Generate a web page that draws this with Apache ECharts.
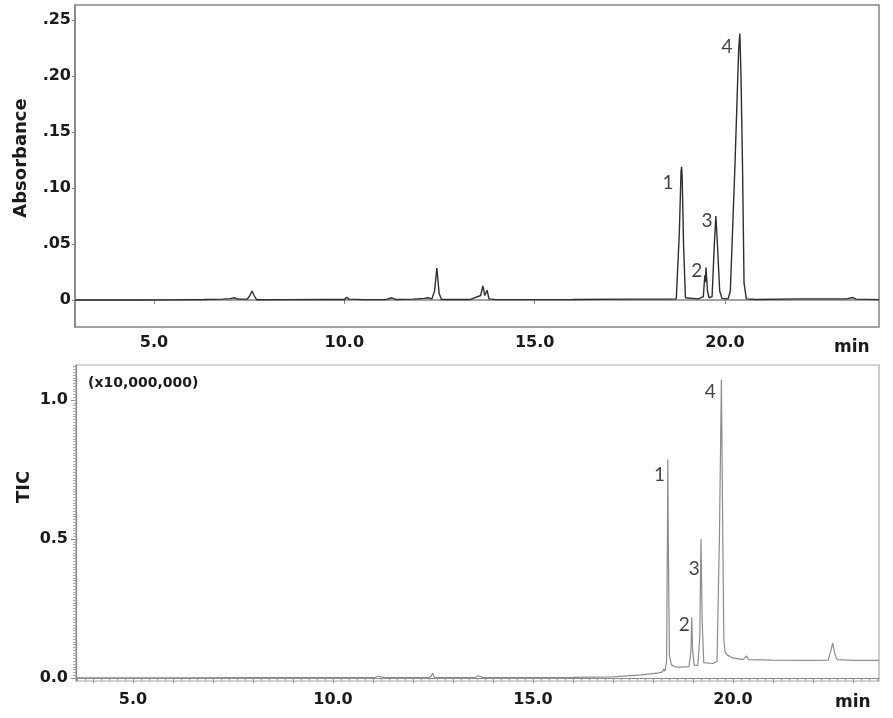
<!DOCTYPE html>
<html>
<head>
<meta charset="utf-8">
<script src="https://cdn.jsdelivr.net/npm/echarts@6/dist/echarts.min.js"></script>
<style>
html,body{margin:0;padding:0;background:#fff;}
#chart{width:893px;height:718px;}
</style>
</head>
<body>
<div id="chart"></div>
<script>
// ---- Data ----
// UV absorbance trace: [time (min), absorbance]
const absTrace = [
  [2.93, 0.0000], [4.5, 0.0000], [5.5, 0.0001], [6.3, 0.0005], [6.8, 0.0008], [7.0, 0.0012],
  [7.12, 0.0020], [7.2, 0.0008], [7.45, 0.0008], [7.52, 0.0040], [7.575, 0.0080], [7.63, 0.0040],
  [7.7, 0.0002], [8.5, 0.0003], [9.5, 0.0006], [10.0, 0.0004], [10.06, 0.0025], [10.12, 0.0008],
  [10.5, 0.0003], [11.1, 0.0005], [11.25, 0.0020], [11.35, 0.0005], [11.8, 0.0008], [12.1, 0.0015],
  [12.2, 0.0020], [12.3, 0.0010], [12.37, 0.0080], [12.43, 0.0286], [12.49, 0.0060], [12.55, 0.0005],
  [13.3, 0.0004], [13.58, 0.0040], [13.64, 0.0125], [13.69, 0.0040], [13.75, 0.0088], [13.8, 0.0010],
  [14.0, 0.0003], [16.0, 0.0005], [17.5, 0.0008], [18.5, 0.0008],
  [18.72, 0.0010], [18.80, 0.0600], [18.845, 0.1150], [18.86, 0.1190], [18.875, 0.1100], [18.91, 0.0500], [18.96, 0.0020],
  [19.3, 0.0010], [19.43, 0.0030], [19.47, 0.0220], [19.485, 0.0160], [19.50, 0.0290], [19.54, 0.0080], [19.58, 0.0020],
  [19.66, 0.0030], [19.72, 0.0500], [19.76, 0.0750], [19.80, 0.0500], [19.86, 0.0080], [19.92, 0.0015],
  [20.08, 0.0010], [20.14, 0.0080], [20.26, 0.1190], [20.36, 0.2250], [20.39, 0.2380], [20.42, 0.2000],
  [20.46, 0.1190], [20.50, 0.0150], [20.56, 0.0010], [20.8, 0.0005], [22.0, 0.0010], [23.2, 0.0010],
  [23.35, 0.0022], [23.45, 0.0008], [24.045, 0.0003]
];
// Total ion current trace: [time (min), TIC (x10,000,000)]
const ticTrace = [
  [3.575, 0.000], [4.5, 0.000], [6.0, 0.000], [8.0, 0.001], [10.0, 0.001], [11.05, 0.001],
  [11.12, 0.006], [11.16, 0.013], [11.2, 0.004], [11.3, 0.001], [12.4, 0.001], [12.46, 0.008],
  [12.49, 0.017], [12.53, 0.003], [12.6, 0.001], [13.55, 0.001], [13.6, 0.006], [13.63, 0.008],
  [13.68, 0.003], [13.75, 0.001], [15.0, 0.001], [16.0, 0.002], [17.0, 0.004], [17.7, 0.011],
  [18.1, 0.017], [18.24, 0.022], [18.27, 0.032], [18.3, 0.024], [18.34, 0.060], [18.36, 0.500],
  [18.37, 0.787], [18.385, 0.450], [18.41, 0.080], [18.46, 0.047], [18.55, 0.040], [18.6, 0.044],
  [18.65, 0.039], [18.9, 0.041], [18.95, 0.100], [18.97, 0.218], [18.99, 0.100], [19.03, 0.046],
  [19.12, 0.045], [19.17, 0.150], [19.20, 0.499], [19.23, 0.200], [19.27, 0.055], [19.5, 0.052],
  [19.6, 0.060], [19.66, 0.500], [19.71, 1.074], [19.745, 0.500], [19.77, 0.140], [19.8, 0.095],
  [19.86, 0.082], [20.0, 0.072], [20.25, 0.066], [20.3, 0.068], [20.34, 0.079], [20.38, 0.066],
  [21.0, 0.064], [22.0, 0.063], [22.38, 0.064], [22.45, 0.100], [22.49, 0.125], [22.54, 0.090],
  [22.6, 0.066], [23.0, 0.063], [23.65, 0.063]
];
// Peak numbers: [time, value, label]
const absPeakLabels = [[18.50, 0.1045, '1'], [19.26, 0.026, '2'], [19.53, 0.0705, '3'], [20.05, 0.226, '4']];
const ticPeakLabels = [[18.16, 0.730, '1'], [18.78, 0.191, '2'], [19.03, 0.393, '3'], [19.43, 1.030, '4']];
// Tick values
const absXTicks = [5, 10, 15, 20];
const absYTicks = [0, 0.05, 0.10, 0.15, 0.20, 0.25];
const ticXLabels = [5, 10, 15, 20];
const ticXMajorTicks = [4, 5, 6, 7, 8, 9, 10, 11, 12, 13, 14, 15, 16, 17, 18, 19, 20, 21, 22, 23];
const ticYTicks = [0, 0.5, 1.0];

const ticXMinorTicks = [];
for (let i = 18; i <= 118; i++) ticXMinorTicks.push(+(i * 0.2).toFixed(1));
const ticYMinorTicks = [];
for (let i = 0; i <= 112; i++) ticYMinorTicks.push(+(i * 0.01).toFixed(2));

const FONT = 'DejaVu Sans';
const tickLabel = { fontFamily: FONT, fontWeight: 'bold', fontSize: 16, color: '#1a1a1a' };
const peakLabel = { show: true, position: 'inside', formatter: p => p.data[2], fontFamily: 'Lato', fontSize: 19, color: '#111' };

const chart = echarts.init(document.getElementById('chart'), null, { renderer: 'canvas' });
chart.setOption({
  animation: false,
  backgroundColor: '#fff',
  grid: [
    { left: 75, top: 5, width: 804, height: 322, show: true, borderColor: '#858585', borderWidth: 1.5, backgroundColor: 'transparent' },
    { left: 76, top: 365, width: 803, height: 316, show: true, borderColor: '#aaaaaa', borderWidth: 1.2, backgroundColor: 'transparent' }
  ],
  xAxis: [
    {
      gridIndex: 0, type: 'value', position: 'bottom', min: 2.925, max: 24.045,
      axisLine: { show: true, lineStyle: { color: '#858585', width: 1.5 } },
      axisTick: { show: true, customValues: absXTicks, length: 4, lineStyle: { color: '#858585' } },
      axisLabel: Object.assign({ customValues: absXTicks, margin: 8, formatter: v => v.toFixed(1) }, tickLabel),
      splitLine: { show: false }
    },
    {
      gridIndex: 1, type: 'value', position: 'bottom', min: 3.575, max: 23.65,
      axisLine: { show: true, lineStyle: { color: '#8a8a8a', width: 1.2 } },
      axisTick: { show: true, customValues: ticXMajorTicks, length: 5, lineStyle: { color: '#8a8a8a' } },
      axisLabel: Object.assign({ customValues: ticXLabels, margin: 11, formatter: v => v.toFixed(1) }, tickLabel),
      splitLine: { show: false }
    },
    {
      gridIndex: 1, type: 'value', position: 'bottom', min: 3.575, max: 23.65,
      axisLine: { show: false },
      axisTick: { show: true, customValues: ticXMinorTicks, length: 3, lineStyle: { color: '#9a9a9a' } },
      axisLabel: { show: false },
      splitLine: { show: false }
    }
  ],
  yAxis: [
    {
      gridIndex: 0, type: 'value', position: 'left', min: -0.0241, max: 0.2634,
      axisLine: { show: true, lineStyle: { color: '#858585', width: 1.5 } },
      axisTick: { show: true, customValues: absYTicks, length: 3, lineStyle: { color: '#858585' } },
      axisLabel: Object.assign({
        customValues: absYTicks, margin: 4,
        formatter: v => (Math.abs(v) < 1e-9 ? '0' : '.' + v.toFixed(2).split('.')[1])
      }, tickLabel),
      splitLine: { show: false }
    },
    {
      gridIndex: 1, type: 'value', position: 'left', min: -0.011, max: 1.126,
      axisLine: { show: true, lineStyle: { color: '#8a8a8a', width: 1.2 } },
      axisTick: { show: true, customValues: ticYTicks, length: 5, lineStyle: { color: '#8a8a8a' } },
      axisLabel: Object.assign({ customValues: ticYTicks, margin: 8, formatter: v => v.toFixed(1) }, tickLabel),
      splitLine: { show: false }
    },
    {
      gridIndex: 1, type: 'value', position: 'left', min: -0.011, max: 1.126,
      axisLine: { show: false },
      axisTick: { show: true, customValues: ticYMinorTicks, length: 3, lineStyle: { color: '#9a9a9a', width: 0.8 } },
      axisLabel: { show: false },
      splitLine: { show: false }
    }
  ],
  graphic: [
    { type: 'text', x: 21, y: 158, rotation: Math.PI / 2,
      style: { text: 'Absorbance', font: 'bold 18px "DejaVu Sans"', fill: '#1a1a1a', align: 'center', verticalAlign: 'middle' } },
    { type: 'text', x: 24, y: 487, rotation: Math.PI / 2,
      style: { text: 'TIC', font: 'bold 18px "DejaVu Sans"', fill: '#1a1a1a', align: 'center', verticalAlign: 'middle' } },
    { type: 'text', left: 834, top: 339, style: { text: 'min', font: 'bold 17px "DejaVu Sans"', fill: '#1a1a1a' } },
    { type: 'text', left: 835, top: 694, style: { text: 'min', font: 'bold 17px "DejaVu Sans"', fill: '#1a1a1a' } },
    { type: 'text', left: 88, top: 376, style: { text: '(x10,000,000)', font: 'bold 14px "DejaVu Sans"', fill: '#1a1a1a' } }
  ],
  series: [
    {
      type: 'line', xAxisIndex: 0, yAxisIndex: 0, data: absTrace, showSymbol: false, smooth: false,
      lineStyle: { color: '#2e2e2e', width: 1.4 }, silent: true
    },
    {
      type: 'line', xAxisIndex: 1, yAxisIndex: 1, data: ticTrace, showSymbol: false, smooth: false,
      lineStyle: { color: '#8c8c8c', width: 1.2 }, silent: true
    },
    {
      type: 'scatter', xAxisIndex: 0, yAxisIndex: 0, data: absPeakLabels, symbolSize: 1,
      itemStyle: { color: 'rgba(0,0,0,0)' }, silent: true, label: peakLabel
    },
    {
      type: 'scatter', xAxisIndex: 1, yAxisIndex: 1, data: ticPeakLabels, symbolSize: 1,
      itemStyle: { color: 'rgba(0,0,0,0)' }, silent: true, label: peakLabel
    }
  ]
});
</script>
</body>
</html>
